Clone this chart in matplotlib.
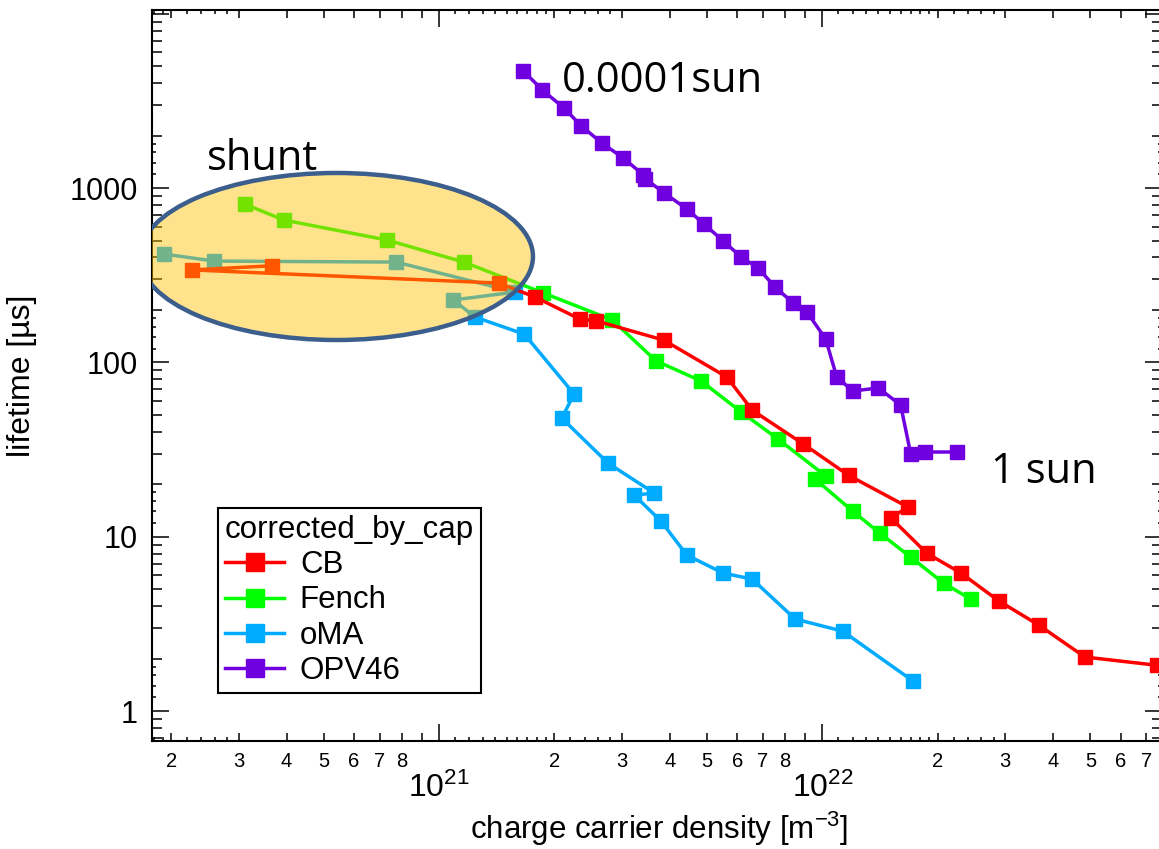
"""Lifetime vs. charge carrier density (log-log), Igor-style axes."""

import matplotlib
matplotlib.use("Agg")
import matplotlib.pyplot as plt
import numpy as np
from matplotlib.patches import Ellipse
from matplotlib.ticker import FixedLocator, FuncFormatter, NullFormatter

plt.rcParams["font.family"] = ["Liberation Sans", "DejaVu Sans"]
plt.rcParams["mathtext.fontset"] = "custom"
plt.rcParams["mathtext.rm"] = "Liberation Sans"
plt.rcParams["mathtext.it"] = "Liberation Sans:italic"
plt.rcParams["mathtext.bf"] = "Liberation Sans:bold"
plt.rcParams["mathtext.sf"] = "Liberation Sans"

# ---------------------------------------------------------------------------
# Data: density in m^-3, lifetime in us
# ---------------------------------------------------------------------------
cb_n = [3.66e20, 2.27e20, 1.43e21, 1.78e21, 2.33e21, 2.57e21, 3.86e21, 5.63e21,
        6.56e21, 8.92e21, 1.17e22, 1.67e22, 1.51e22, 1.87e22, 2.30e22, 2.89e22,
        3.67e22, 4.84e22, 7.46e22]
cb_tau = [358, 339, 285, 237, 177, 173, 134, 82.4,
          53.2, 34.0, 22.5, 14.8, 12.8, 8.05, 6.18, 4.27,
          3.11, 2.04, 1.83]

fench_n = [3.11e20, 3.94e20, 7.32e20, 1.16e21, 1.87e21, 2.83e21, 3.68e21, 4.83e21,
           6.14e21, 7.66e21, 1.02e22, 9.55e21, 1.20e22, 1.41e22, 1.70e22, 2.07e22,
           2.44e22]
fench_tau = [809, 655, 503, 376, 250, 175, 102, 78.1,
             51.9, 36.3, 22.3, 21.5, 14.0, 10.5, 7.63, 5.42,
             4.38]

oma_n = [1.92e20, 2.59e20, 7.73e20, 1.58e21, 1.09e21, 1.24e21, 1.67e21, 2.25e21,
         2.09e21, 2.76e21, 3.64e21, 3.23e21, 3.79e21, 4.43e21, 5.51e21, 6.56e21,
         8.49e21, 1.13e22, 1.72e22]
oma_tau = [418, 381, 376, 253, 228, 182, 145, 65.8,
           47.9, 26.4, 17.8, 17.3, 12.3, 7.84, 6.18, 5.71,
           3.37, 2.87, 1.49]

opv_n = [1.66e21, 1.86e21, 2.12e21, 2.35e21, 2.66e21, 3.02e21, 3.41e21, 3.45e21,
         3.87e21, 4.43e21, 4.91e21, 5.51e21, 6.14e21, 6.80e21, 7.53e21, 8.39e21,
         9.12e21, 1.02e22, 1.09e22, 1.20e22, 1.40e22, 1.60e22, 1.70e22, 1.85e22,
         2.24e22]
opv_tau = [4690, 3650, 2870, 2270, 1810, 1490, 1190, 1130,
           936, 758, 622, 497, 402, 347, 270, 219,
           194, 136, 82.4, 68.5, 71.3, 56.9, 29.8, 30.6,
           30.6]

series = [
    ("CB", cb_n, cb_tau, "#FF0000"),
    ("Fench", fench_n, fench_tau, "#00FF00"),
    ("oMA", oma_n, oma_tau, "#00AAFF"),
    ("OPV46", opv_n, opv_tau, "#7000E0"),
]
z_order = {"CB": 4, "Fench": 3, "oMA": 2, "OPV46": 2}

x_lim = (1.783e20, 7.69e22)
y_lim = (0.673, 10500)

# ---------------------------------------------------------------------------
# Figure
# ---------------------------------------------------------------------------
fig = plt.figure(figsize=(11.59, 8.49), dpi=100)
ax = fig.add_axes([152 / 1159, 1 - 741 / 849, 1010 / 1159, 731 / 849])

for name, n, tau, col in series:
    ax.plot(n, tau, "-s", color=col, lw=2.5, ms=10.5, mec=col,
            label=name, zorder=z_order[name])

ax.set_xscale("log")
ax.set_yscale("log")
ax.set_xlim(*x_lim)
ax.set_ylim(*y_lim)

# ── ticks: decades long, 2..9 medium, Igor's extra subdivisions short ──────
x_dec = [20, 21, 22]
y_dec = [-1, 0, 1, 2, 3]


def _mant(v):
    return int(round(v / 10.0 ** np.floor(np.log10(v) + 1e-9)))


ax.xaxis.set_major_locator(FixedLocator([1e21, 1e22]))
ax.xaxis.set_major_formatter(
    FuncFormatter(lambda v, p: r"$10^{%d}$" % round(np.log10(v))))
ax.xaxis.set_minor_locator(
    FixedLocator([m * 10.0 ** d for d in x_dec for m in range(2, 10)]))
ax.xaxis.set_minor_formatter(
    FuncFormatter(lambda v, p: "" if _mant(v) == 9 else "%d" % _mant(v)))

ax.yaxis.set_major_locator(FixedLocator([1, 10, 100, 1000, 10000]))
ax.yaxis.set_major_formatter(
    FuncFormatter(lambda v, p: "" if v > 5000 else "%d" % round(v)))
ax.yaxis.set_minor_locator(
    FixedLocator([m * 10.0 ** d for d in y_dec for m in range(2, 10)]))
ax.yaxis.set_minor_formatter(NullFormatter())

ax.tick_params(which="both", direction="in", top=True, right=True, width=1.1)
ax.tick_params(axis="x", which="major", length=12, pad=23, labelsize=23)
ax.tick_params(axis="x", which="minor", length=6, pad=8, labelsize=14.5)
ax.tick_params(axis="y", which="major", length=12, pad=10, labelsize=22)
ax.tick_params(axis="y", which="minor", length=7)

x_sub = [m * 10.0 ** d for d in x_dec
         for m in (1.1, 1.2, 1.3, 1.4, 1.5, 1.6, 1.7, 1.8, 1.9, 2.2, 2.4, 2.6, 2.8)]
y_sub = [m * 10.0 ** d for d in y_dec for m in (1.2, 1.4, 1.6, 1.8)]
fx = 4 / 731
fy = 4 / 1010
for lo, hi in ((0, fx), (1 - fx, 1)):
    ax.vlines(x_sub, lo, hi, transform=ax.get_xaxis_transform(), color="k", lw=1.1)
for lo, hi in ((0, fy), (1 - fy, 1)):
    ax.hlines(y_sub, lo, hi, transform=ax.get_yaxis_transform(), color="k", lw=1.1)

for sp in ax.spines.values():
    sp.set_linewidth(1.5)

ax.set_xlabel(r"charge carrier density [m$^{-3}$]", fontsize=22.5)
ax.xaxis.set_label_coords(0.502, -0.094)
ax.set_ylabel("lifetime [µs]", fontsize=23)
ax.yaxis.set_label_coords(-0.114, 0.5)

# ── shunt ellipse (semi-transparent, over the data) ─────────────────────────
ax.add_patch(Ellipse((0.1827, 0.6628), 0.389, 0.2285, transform=ax.transAxes,
                     facecolor=(1.0, 0.753, 0.0, 0.45), edgecolor="#3B5E8C",
                     lw=3.2, zorder=6))

note = dict(family=["Open Sans", "DejaVu Sans"], fontsize=30, va="baseline")
ax.text(2.48e20, 1268, "shunt", **note)
ax.text(2.09e21, 3556, "0.0001sun", **note)
ax.text(2.76e22, 20.3, "1 sun", **note)

leg = ax.legend(title="corrected_by_cap", loc="lower left",
                bbox_to_anchor=(218 / 1159, 1 - 693 / 849),
                bbox_transform=fig.transFigure, fontsize=22.5, title_fontsize=22.5,
                alignment="left", fancybox=False, edgecolor="k", framealpha=1,
                borderaxespad=0, borderpad=0.22, labelspacing=0.17,
                handlelength=1.9, handletextpad=0.5, markerscale=1.3)
leg.get_frame().set_linewidth(1.5)
leg.set_zorder(10)

fig.savefig("out.png", dpi=100)
